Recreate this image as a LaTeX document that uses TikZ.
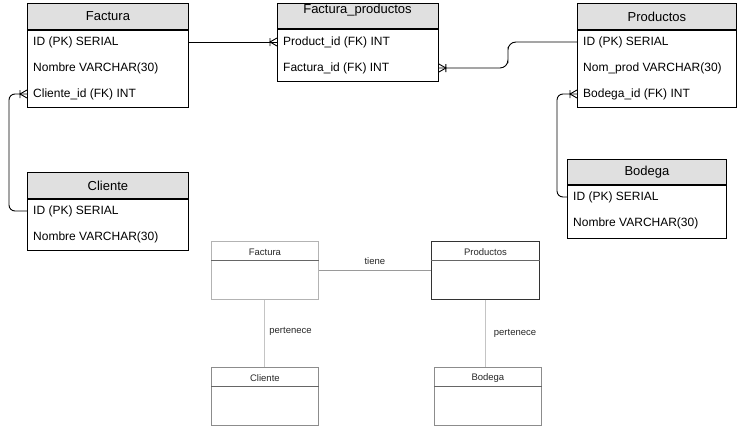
\documentclass[tikz,border=0pt]{standalone}
\usepackage{fontspec}
\setmainfont{Liberation Sans}
\usetikzlibrary{calc}
\definecolor{hdrgray}{HTML}{E0E0E0}
\definecolor{lowA}{HTML}{B3B3B3}
\definecolor{lowB}{HTML}{8C8C8C}
\definecolor{lowC}{HTML}{333333}
\definecolor{lowline}{HTML}{C4C4C4}
\definecolor{tieneline}{HTML}{9A9A9A}
\tikzset{
  tbl/.style={draw=black, line width=0.9pt, inner sep=0pt, anchor=north west},
  hdr/.style={tbl, fill=hdrgray, font=\fontsize{13}{15}\selectfont},
  rowtxt/.style={inner sep=0pt, anchor=west, font=\fontsize{12}{14}\selectfont},
  conn/.style={draw=black, line width=0.9pt},
  lowbox/.style={line width=0.8pt, inner sep=0pt, anchor=north west, minimum width=107pt, minimum height=58pt},
  lowtxt/.style={inner sep=0pt, font=\fontsize{9.5}{11}\selectfont, text=black!85},
  lowconn/.style={draw=lowline, line width=1pt},
}
\newcommand{\erfoot}[2]{%
  \draw[conn] ($(#1)+(#2,-4)$) -- ($(#1)+(#2,4)$)
              ($(#1)+(0,-4)$) -- ($(#1)+(#2,0)$) -- ($(#1)+(0,4)$);}
\begin{document}
\begin{tikzpicture}[x=1pt,y=-1pt]
\useasboundingbox (0,0) rectangle (738,434);

% ---------- Factura ----------
\node[hdr, minimum width=161pt, minimum height=26pt] (fach) at (27,3) {Factura};
\node[tbl, minimum width=161pt, minimum height=77pt] (facb) at (fach.south west) {};
\node[rowtxt] (fac1) at (33,42) {ID (PK) SERIAL};
\node[rowtxt] (fac2) at (33,68) {Nombre VARCHAR(30)};
\node[rowtxt] (fac3) at (33,94) {Cliente\_id (FK) INT};

% ---------- Factura_productos ----------
\node[hdr, minimum width=161pt, minimum height=25pt] (fph) at (277,3) {};
\node[inner sep=0pt, font=\fontsize{13}{15}\selectfont] (fpt) at (357.5,10.5) {Factura\_productos};
\node[tbl, minimum width=161pt, minimum height=52pt] (fpb) at (fph.south west) {};
\node[rowtxt] (fp1) at (283,42) {Product\_id (FK) INT};
\node[rowtxt] (fp2) at (283,68) {Factura\_id (FK) INT};

% ---------- Productos ----------
\node[hdr, minimum width=159pt, minimum height=26pt] (proh) at (577,3) {Productos};
\node[tbl, minimum width=159pt, minimum height=77pt] (prob) at (proh.south west) {};
\node[rowtxt] (pro1) at (583,42) {ID (PK) SERIAL};
\node[rowtxt] (pro2) at (583,68) {Nom\_prod VARCHAR(30)};
\node[rowtxt] (pro3) at (583,94) {Bodega\_id (FK) INT};

% ---------- Cliente ----------
\node[hdr, minimum width=161pt, minimum height=26pt] (clih) at (27,172) {Cliente};
\node[tbl, minimum width=161pt, minimum height=51pt] (clib) at (clih.south west) {};
\node[rowtxt] (cli1) at (33,211) {ID (PK) SERIAL};
\node[rowtxt] (cli2) at (33,237) {Nombre VARCHAR(30)};

% ---------- Bodega ----------
\node[hdr, minimum width=159pt, minimum height=25pt] (bodh) at (567,159) {Bodega};
\node[tbl, minimum width=159pt, minimum height=53pt] (bodb) at (bodh.south west) {};
\node[rowtxt] (bod1) at (573,197) {ID (PK) SERIAL};
\node[rowtxt] (bod2) at (573,223) {Nombre VARCHAR(30)};

% ---------- connectors (ER) ----------
\coordinate (e1) at (fpb.west |- fp1);
\draw[conn] (facb.east |- fac1) -- (e1);
\erfoot{e1}{-7}

\coordinate (e2) at (fpb.east |- fp2);
\draw[conn, rounded corners=8] (prob.west |- pro1) -| ($(e2)!0.5!(prob.west |- pro1)$) |- (e2);
\erfoot{e2}{7}

\coordinate (e3) at (facb.west |- fac3);
\draw[conn, rounded corners=6] (clib.west |- cli1) -- ++(-18,0) |- (e3);
\erfoot{e3}{-7}

\coordinate (e4) at (prob.west |- pro3);
\draw[conn, rounded corners=6] (bodb.west |- bod1) -- ++(-10,0) |- (e4);
\erfoot{e4}{-7}

% ---------- lower conceptual diagram ----------
\node[lowbox, draw=lowA] (lfac) at (211,241) {};
\draw[line width=0.8pt, draw=black!60] ($(lfac.north west)+(0,19)$) -- ($(lfac.north east)+(0,19)$);
\node[lowtxt] (lfact) at ($(lfac.north)+(0,11)$) {Factura};

\node[lowbox, draw=lowC, minimum width=108pt] (lpro) at (431,241) {};
\draw[line width=0.8pt, draw=black!60] ($(lpro.north west)+(0,19)$) -- ($(lpro.north east)+(0,19)$);
\node[lowtxt] (lprot) at ($(lpro.north)+(0,11)$) {Productos};

\node[lowbox, draw=lowB] (lcli) at (211,367) {};
\draw[line width=0.8pt, draw=black!60] ($(lcli.north west)+(0,19)$) -- ($(lcli.north east)+(0,19)$);
\node[lowtxt] (lclit) at ($(lcli.north)+(0,11)$) {Cliente};

\node[lowbox, draw=lowB] (lbod) at (434,367) {};
\draw[line width=0.8pt, draw=black!60] ($(lbod.north west)+(0,19)$) -- ($(lbod.north east)+(0,19)$);
\node[lowtxt] (lbodt) at ($(lbod.north)+(0,11)$) {Bodega};

\draw[draw=tieneline, line width=1pt] (lfac.east) -- (lpro.west)
  node[lowtxt, midway, above=5pt] (ltiene) {tiene};
\draw[lowconn] (lfac.south) -- (lcli.north)
  node[lowtxt, midway, right=4pt, yshift=2pt] (lper1) {pertenece};
\draw[lowconn] (lpro.south) -- (lpro.south |- lbod.north)
  node[lowtxt, midway, right=8pt] (lper2) {pertenece};
\end{tikzpicture}
\end{document}
